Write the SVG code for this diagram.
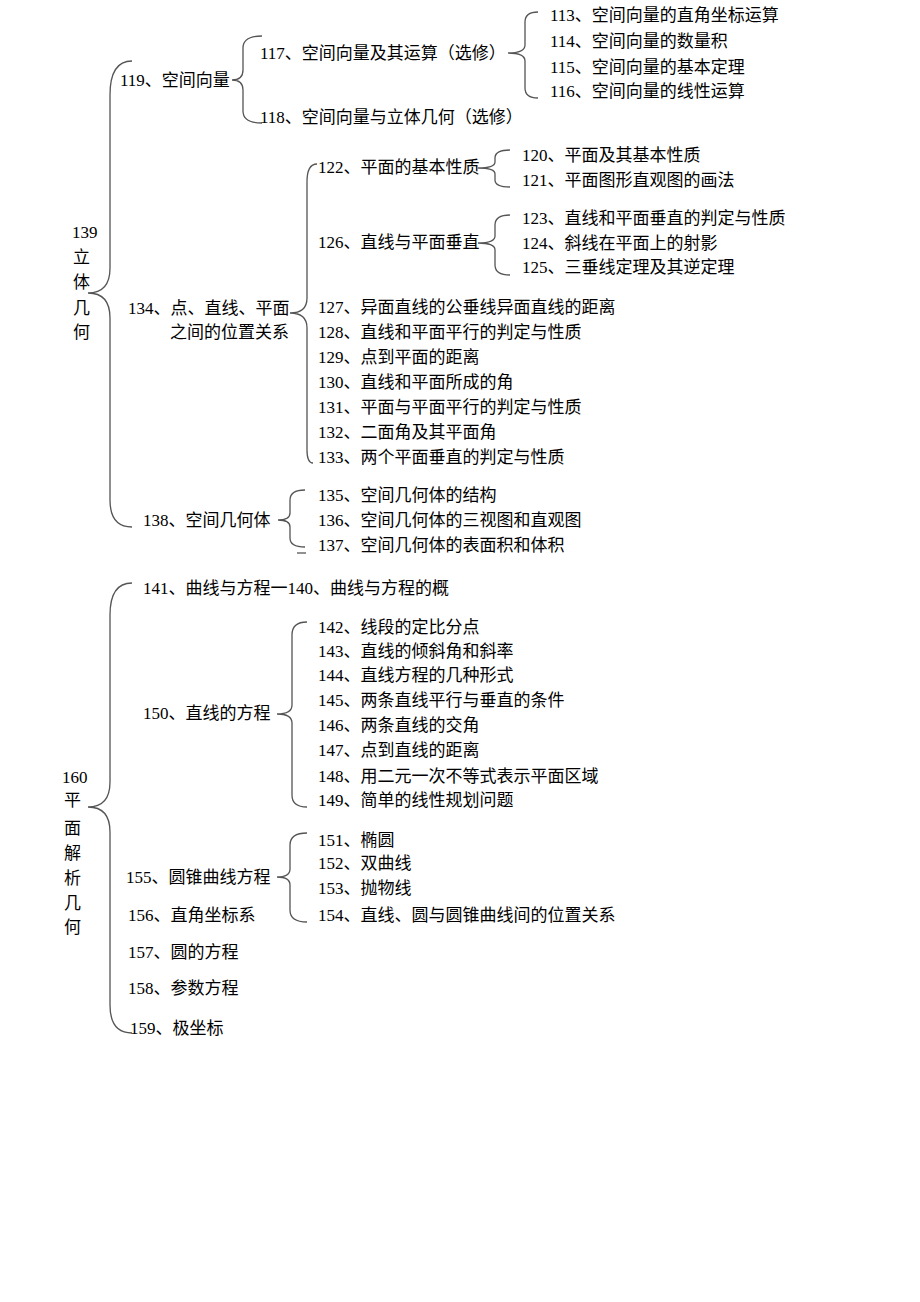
<svg xmlns="http://www.w3.org/2000/svg" width="920" height="1302" viewBox="0 0 920 1302">
<style>
text{font-family:"Liberation Serif","Noto Sans CJK SC",serif;font-size:17px;fill:#000}
.br{fill:none;stroke:#555;stroke-width:1.3}
</style>
<rect width="920" height="1302" fill="#fff"/>
<g id="connectors">
<path class="br" d="M132,61 Q110,61 110,95 L110,268 Q110,293 88,293 Q110,293 110,318 L110,500 Q110,527 132,527"/>
<path class="br" d="M262,36 Q243,36 243,48 L243,70 Q243,80 232,80 Q243,80 243,90 L243,111 Q243,123 262,123"/>
<path class="br" d="M538,12 Q525,12 525,22 L525,45 Q525,53 508,53 Q525,53 525,61 L525,88 Q525,98 538,98"/>
<path class="br" d="M317,164 Q307,164 307,182 L307,298 Q307,313 290,313 Q307,313 307,328 L307,450 Q307,463 313,463"/>
<path class="br" d="M510,150 Q495,150 495,158 L495,162 Q495,168 478,168 Q495,168 495,174 L495,180 Q495,187 510,187"/>
<path class="br" d="M510,215 Q495,215 495,225 L495,236 Q495,243 478,243 Q495,243 495,250 L495,265 Q495,275 510,275"/>
<path class="br" d="M305,490 Q290,490 290,500 L290,513 Q290,520 278,520 Q290,520 290,527 L290,538 Q290,547 305,547"/>
<path class="br" d="M297,553 L306,553"/>
<path class="br" d="M132,583 Q110,583 110,615 L110,782 Q110,807 88,807 Q110,807 110,832 L110,1005 Q110,1033 132,1033"/>
<path class="br" d="M307,622 Q292,622 292,635 L292,705 Q292,714 277,714 Q292,714 292,723 L292,795 Q292,807 307,807"/>
<path class="br" d="M307,833 Q290,833 290,845 L290,869 Q290,877 277,877 Q290,877 290,885 L290,910 Q290,922 307,922"/>
</g>
<g id="n139"><text x="72" y="238">139</text><text x="73" y="263">立</text><text x="73" y="288">体</text><text x="73" y="314">几</text><text x="73" y="338">何</text></g>
<g id="n119"><text x="120" y="86">119、空间向量</text></g>
<g id="n117"><text x="260" y="59">117、空间向量及其运算（选修）</text></g>
<g id="n118"><text x="260" y="123">118、空间向量与立体几何（选修）</text></g>
<g id="n113"><text x="550" y="21">113、空间向量的直角坐标运算</text></g>
<g id="n114"><text x="550" y="47">114、空间向量的数量积</text></g>
<g id="n115"><text x="550" y="73">115、空间向量的基本定理</text></g>
<g id="n116"><text x="550" y="97">116、空间向量的线性运算</text></g>
<g id="n134"><text x="128" y="314">134、点、直线、平面</text><text x="170" y="338">之间的位置关系</text></g>
<g id="n122"><text x="318" y="173">122、平面的基本性质</text></g>
<g id="n120"><text x="522" y="161">120、平面及其基本性质</text></g>
<g id="n121"><text x="522" y="186">121、平面图形直观图的画法</text></g>
<g id="n126"><text x="318" y="248">126、直线与平面垂直</text></g>
<g id="n123"><text x="522" y="224">123、直线和平面垂直的判定与性质</text></g>
<g id="n124"><text x="522" y="249">124、斜线在平面上的射影</text></g>
<g id="n125"><text x="522" y="273">125、三垂线定理及其逆定理</text></g>
<g id="n127"><text x="318" y="313">127、异面直线的公垂线异面直线的距离</text></g>
<g id="n128"><text x="318" y="338">128、直线和平面平行的判定与性质</text></g>
<g id="n129"><text x="318" y="363">129、点到平面的距离</text></g>
<g id="n130"><text x="318" y="388">130、直线和平面所成的角</text></g>
<g id="n131"><text x="318" y="413">131、平面与平面平行的判定与性质</text></g>
<g id="n132"><text x="318" y="438">132、二面角及其平面角</text></g>
<g id="n133"><text x="318" y="463">133、两个平面垂直的判定与性质</text></g>
<g id="n138"><text x="143" y="526">138、空间几何体</text></g>
<g id="n135"><text x="318" y="501">135、空间几何体的结构</text></g>
<g id="n136"><text x="318" y="526">136、空间几何体的三视图和直观图</text></g>
<g id="n137"><text x="318" y="551">137、空间几何体的表面积和体积</text></g>
<g id="n160"><text x="62" y="783">160</text><text x="64" y="806">平</text><text x="64" y="834">面</text><text x="64" y="859">解</text><text x="64" y="884">析</text><text x="64" y="909">几</text><text x="64" y="933">何</text></g>
<g id="n141"><text x="143" y="594">141、曲线与方程一140、曲线与方程的概</text></g>
<g id="n150"><text x="143" y="719">150、直线的方程</text></g>
<g id="n142"><text x="318" y="633">142、线段的定比分点</text></g>
<g id="n143"><text x="318" y="657">143、直线的倾斜角和斜率</text></g>
<g id="n144"><text x="318" y="681">144、直线方程的几种形式</text></g>
<g id="n145"><text x="318" y="706">145、两条直线平行与垂直的条件</text></g>
<g id="n146"><text x="318" y="731">146、两条直线的交角</text></g>
<g id="n147"><text x="318" y="756">147、点到直线的距离</text></g>
<g id="n148"><text x="318" y="782">148、用二元一次不等式表示平面区域</text></g>
<g id="n149"><text x="318" y="806">149、简单的线性规划问题</text></g>
<g id="n155"><text x="126" y="883">155、圆锥曲线方程</text></g>
<g id="n151"><text x="318" y="846">151、椭圆</text></g>
<g id="n152"><text x="318" y="869">152、双曲线</text></g>
<g id="n153"><text x="318" y="894">153、抛物线</text></g>
<g id="n154"><text x="318" y="921">154、直线、圆与圆锥曲线间的位置关系</text></g>
<g id="n156"><text x="128" y="921">156、直角坐标系</text></g>
<g id="n157"><text x="128" y="958">157、圆的方程</text></g>
<g id="n158"><text x="128" y="994">158、参数方程</text></g>
<g id="n159"><text x="130" y="1034">159、极坐标</text></g>
</svg>
